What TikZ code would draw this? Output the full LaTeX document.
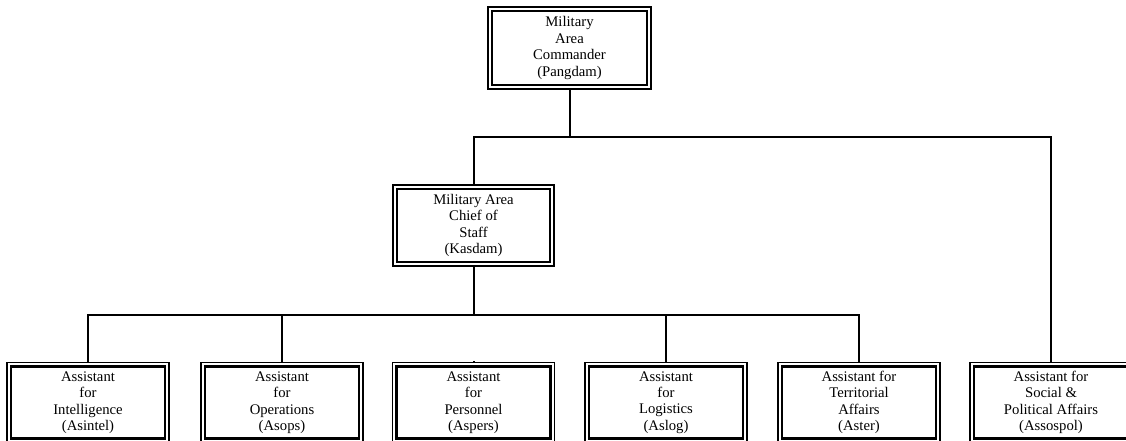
\documentclass[tikz,border=0pt]{standalone}
\usepackage{fontspec}
\setmainfont{Liberation Serif}
\begin{document}
\begin{tikzpicture}[x=1pt,y=-1pt,
  dbox/.style={draw=black, line width=1.2pt, fill=white, inner sep=0pt,
    minimum width=162pt, minimum height=80pt, align=center,
    font=\fontsize{14.7}{16.4}\selectfont},
  innerframe/.style={draw=black, line width=2.1pt},
  conn/.style={draw=black, line width=2pt, line join=miter}]
\useasboundingbox (0,0) rectangle (1126,441);
\fill[white] (0,0) rectangle (1126,441);
\clip (0,0) rectangle (1126,441);

% junction points of the two horizontal buses
\coordinate (j1) at (569.5,137);
\coordinate (j2) at (473.5,315);

% connectors
\draw[conn] (473.5,185) -- (473.5,137) -- (1051,137) -- (1051,362);
\draw[conn] (88,362) -- (88,315) -- (859,315) -- (859,362);
\foreach \x in {282,666} \draw[conn] (\x,315) -- (\x,362);

% boxes
\node[dbox, minimum width=163pt, minimum height=82pt] (cmd) at (569.5,48)
  {Military\\Area\\Commander\\(Pangdam)};
\node[dbox, minimum width=161pt, minimum height=81pt] (cos) at (473.5,225.5)
  {Military Area\\Chief of\\Staff\\(Kasdam)};
\node[dbox] (intel) at (88,402.5) {Assistant\\for\\Intelligence\\(Asintel)};
\node[dbox] (ops) at (282,402.5) {Assistant\\for\\Operations\\(Asops)};
\node[dbox] (pers) at (473.5,402.5) {Assistant\\for\\Personnel\\(Aspers)};
\node[dbox] (log) at (666,402.5) {Assistant\\for\\Logistics\\(Aslog)};
\node[dbox] (ter) at (859,402.5) {Assistant for\\Territorial\\Affairs\\(Aster)};
\node[dbox] (soc) at (1051,402.5) {Assistant for\\Social \&\\Political Affairs\\(Assospol)};

% inner frame of each double-ruled box
\foreach \n in {cmd,cos,intel,ops,pers,log,ter,soc}
  \draw[innerframe] ([shift={(4.6pt,-4.6pt)}]\n.north west) rectangle
                    ([shift={(-4.6pt,4.6pt)}]\n.south east);

% vertical stubs into each box
\draw[conn] (cmd.south) -- (j1);
\draw[conn] (cos.north) -- (cos.north |- j1);
\draw[conn] (cos.south) -- (j2);
\foreach \n in {intel,ops,pers,log,ter,soc} \draw[conn] (\n.north) -- ++(0,-1);
\end{tikzpicture}
\end{document}
